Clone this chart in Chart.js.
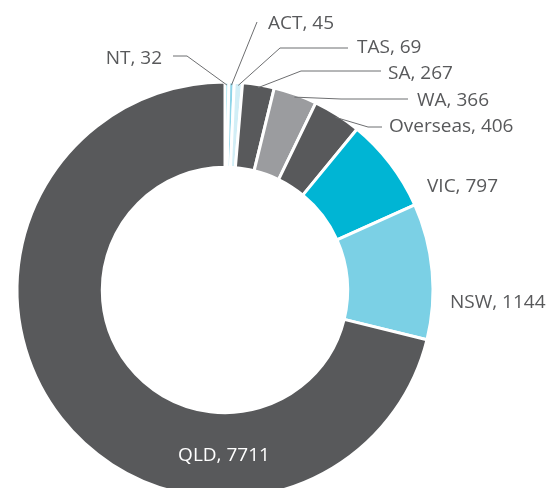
<!DOCTYPE html>
<html>
<head>
<meta charset="utf-8">
<script src="https://cdn.jsdelivr.net/npm/chart.js@4.4.1/dist/chart.umd.min.js"></script>
<style>
  html, body { margin: 0; padding: 0; background: #fff; overflow: hidden; }
  #wrap { width: 559px; height: 488px; overflow: hidden; }
  canvas { display: block; }
</style>
</head>
<body>
<div id="wrap"><canvas id="c" width="559" height="520"></canvas></div>
<script>
// ---- data ----
const categories = ["NT", "ACT", "TAS", "SA", "WA", "Overseas", "VIC", "NSW", "QLD"];
const values     = [32, 45, 69, 267, 366, 406, 797, 1144, 7711];
const colors     = ["#00b3d4", "#8dd4e8", "#d2eef6", "#58595b", "#9b9c9f", "#58595b", "#00b5d4", "#7bd0e5", "#58595b"];

// ---- label layout (positions relative to the doughnut centre, px) ----
const labelLayout = {
  NT:       { elbow: [-38, -234], end: [-52, -234], text: [-63, -226], align: "right" },
  ACT:      { elbow: [32, -268],  end: [32, -268],  text: [43, -261],  align: "left" },
  TAS:      { elbow: [55, -242],  end: [123, -242], text: [132, -237], align: "left" },
  SA:       { elbow: [76, -219],  end: [156, -219], text: [163, -211], align: "left" },
  WA:       { elbow: [116, -191], end: [183, -191], text: [192, -184], align: "left" },
  Overseas: { elbow: [143, -163], end: [157, -163], text: [164, -158], align: "left" },
  VIC:      { text: [202, -98], align: "left" },
  NSW:      { text: [225, 18],  align: "left" },
  QLD:      { text: [-1, 171],  align: "center", color: "#ffffff" }
};

const FONT = '19px "Open Sans", "Noto Sans", sans-serif';
const TEXT_COLOR = "#58595b";
const LINE_COLOR = "#6d6e70";

const labelPlugin = {
  id: "calloutLabels",
  afterDatasetsDraw(chart) {
    const ctx = chart.ctx;
    const meta = chart.getDatasetMeta(0);
    ctx.save();
    ctx.font = FONT;
    ctx.textBaseline = "alphabetic";
    meta.data.forEach((arc, i) => {
      const name = categories[i];
      const cfg = labelLayout[name];
      if (!cfg) return;
      const p = arc.getProps(["x", "y", "startAngle", "endAngle", "outerRadius"], true);
      const cx = p.x, cy = p.y;
      if (cfg.elbow) {
        const mid = (p.startAngle + p.endAngle) / 2;
        const r = p.outerRadius - 3;
        const ax = cx + Math.cos(mid) * r;
        const ay = cy + Math.sin(mid) * r;
        ctx.beginPath();
        ctx.strokeStyle = LINE_COLOR;
        ctx.lineWidth = 1;
        ctx.moveTo(ax, ay);
        ctx.lineTo(cx + cfg.elbow[0], cy + cfg.elbow[1]);
        ctx.lineTo(cx + cfg.end[0], cy + cfg.end[1]);
        ctx.stroke();
      }
      ctx.fillStyle = cfg.color || TEXT_COLOR;
      ctx.textAlign = cfg.align;
      ctx.fillText(name + ", " + values[i], cx + cfg.text[0], cy + cfg.text[1]);
    });
    ctx.restore();
  }
};

new Chart(document.getElementById("c"), {
  type: "doughnut",
  data: {
    labels: categories,
    datasets: [{
      data: values,
      backgroundColor: colors,
      borderColor: "#ffffff",
      borderWidth: 3,
      hoverOffset: 0
    }]
  },
  options: {
    responsive: false,
    animation: false,
    devicePixelRatio: 1,
    cutout: "59%",
    rotation: 0,
    layout: { padding: { left: 15.5, right: 124.5, top: 80.5, bottom: 20.5 } },
    plugins: {
      legend: { display: false },
      tooltip: { enabled: false }
    }
  },
  plugins: [labelPlugin]
});
</script>
</body>
</html>
